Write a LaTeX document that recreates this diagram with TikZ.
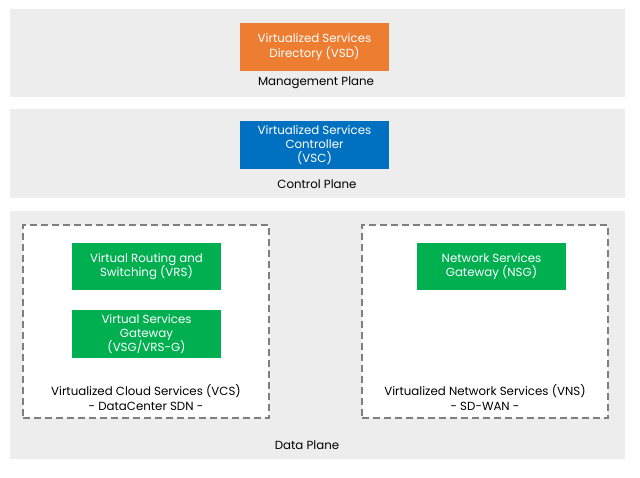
\documentclass[tikz,border=0pt]{standalone}
\usepackage{fontspec}
\setmainfont{Poppins}
\definecolor{panelgray}{HTML}{EDEDED}
\definecolor{vsdorange}{HTML}{ED7D31}
\definecolor{vscblue}{HTML}{0070C0}
\definecolor{vgreen}{HTML}{00B050}
\definecolor{dashgray}{HTML}{7F7F7F}
\begin{document}
\begin{tikzpicture}[x=1pt,y=-1pt,
  panel/.style={fill=panelgray,draw=none,minimum width=615pt,inner sep=0pt},
  svc/.style={draw=none,text=white,minimum width=149pt,minimum height=48pt,inner sep=0pt,align=center,font=\fontsize{11.8}{14.3}\selectfont},
  grp/.style={fill=white,draw=dashgray,line width=1.3pt,dash pattern=on 7pt off 4pt,minimum width=246pt,minimum height=193pt,inner sep=0pt},
  lbl/.style={align=center,inner sep=0pt,font=\fontsize{11.8}{15}\selectfont}]
\useasboundingbox (0,0) rectangle (640,477);
\fill[white] (0,0) rectangle (640,477);
\node[panel,minimum height=88pt] (mgmt) at (317.5,53) {};
\node[panel,minimum height=89pt] (ctrl) at (317.5,153.5) {};
\node[panel,minimum height=248pt] (data) at (317.5,335) {};
\node[grp] (vcs) at (146,321.5) {};
\node[grp] (vns) at (485,321.5) {};
\node[svc,fill=vsdorange] (vsd) at (314.5,47) {Virtualized Services\\Directory (VSD)};
\node[svc,fill=vscblue] (vsc) at (314.5,145) {Virtualized Services\\Controller\\(VSC)};
\node[svc,fill=vgreen,minimum height=47pt] (vrs) at (146.5,266.5) {Virtual Routing and\\Switching (VRS)};
\node[svc,fill=vgreen] (vsg) at (146.5,334) {Virtual Services\\Gateway\\(VSG/VRS-G)};
\node[svc,fill=vgreen,minimum height=47pt] (nsg) at (491.5,266.5) {Network Services\\Gateway (NSG)};
\node[lbl] (mgmtlbl) at (316,83) {Management Plane};
\node[lbl] (ctrllbl) at (317,184) {Control Plane};
\node[lbl] (vcslbl) at (146,397.5) {Virtualized Cloud Services (VCS)\\- DataCenter SDN -};
\node[lbl] (vnslbl) at (485,397.5) {Virtualized Network Services (VNS)\\- SD-WAN -};
\node[lbl] (datalbl) at (307,445) {Data Plane};
\end{tikzpicture}
\end{document}
